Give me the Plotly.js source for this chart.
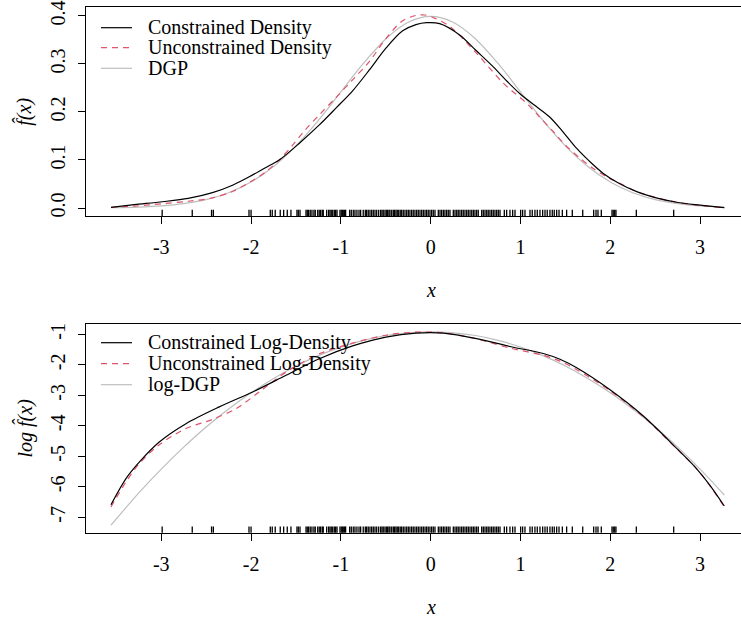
<!DOCTYPE html>
<html>
<head>
<meta charset="utf-8">
<script src="https://cdn.plot.ly/plotly-3.0.1.min.js"></script>
<style>html,body{margin:0;padding:0;background:#fff}#chart{width:741px;height:619px}</style>
</head>
<body>
<div id="chart"></div>
<script>
// ---------- data ----------
// Top panel: densities
var conX = [-3.56,-3.3,-2.985,-2.7,-2.43,-2.2,-2.02,-1.84,-1.686,-1.45,-1.24,-1.05,-0.869,-0.683,-0.498,-0.312,-0.164,-0.045,0.1,0.326,0.5,0.697,0.85,0.994,1.15,1.328,1.48,1.626,1.77,1.922,2.1,2.294,2.5,2.739,3.0,3.27];
var conY = [0.0015,0.007,0.013,0.020,0.032,0.048,0.065,0.084,0.100,0.137,0.173,0.209,0.244,0.2875,0.333,0.369,0.382,0.386,0.384,0.360,0.329,0.294,0.264,0.238,0.215,0.189,0.157,0.124,0.097,0.072,0.051,0.034,0.0215,0.012,0.006,0.0007];
var uncX = [-3.56,-3.3,-2.985,-2.7,-2.43,-2.2,-2.02,-1.84,-1.686,-1.537,-1.4,-1.24,-1.05,-0.869,-0.683,-0.498,-0.312,-0.164,-0.063,0.05,0.215,0.512,0.809,1.069,1.2,1.366,1.5,1.663,1.82,1.96,2.1,2.294,2.5,2.739,3.0,3.27];
var uncY = [0.0015,0.004,0.009,0.014,0.021,0.035,0.053,0.075,0.100,0.131,0.162,0.194,0.231,0.267,0.305,0.353,0.390,0.401,0.402,0.395,0.378,0.322,0.260,0.218,0.192,0.159,0.131,0.1035,0.081,0.065,0.052,0.034,0.022,0.012,0.005,0.0007];
var dgpX = [-3.56,-3.25,-3.0,-2.75,-2.5,-2.25,-2.0,-1.75,-1.5,-1.25,-1.0,-0.75,-0.5,-0.25,0,0.25,0.5,0.75,1.0,1.25,1.5,1.75,2.0,2.25,2.5,2.75,3.0,3.27];
var dgpY = [0.0007,0.002,0.0044,0.0091,0.0175,0.0317,0.054,0.0863,0.1295,0.1826,0.242,0.3011,0.3521,0.3867,0.3989,0.3867,0.3521,0.3011,0.242,0.1826,0.1295,0.0863,0.054,0.0317,0.0175,0.0091,0.0044,0.0019];

// Bottom panel: log-densities
var lconX = [-3.56,-3.393,-3.245,-3.022,-2.725,-2.354,-1.982,-1.611,-1.24,-0.869,-0.498,-0.164,0.14,0.512,0.883,1.254,1.44,1.626,1.997,2.368,2.739,2.962,3.11,3.27];
var lconY = [-6.59,-5.73,-5.19,-4.53,-3.93,-3.38,-2.89,-2.345,-1.80,-1.38,-1.09,-0.96,-0.96,-1.14,-1.40,-1.63,-1.82,-2.10,-2.82,-3.68,-4.74,-5.41,-5.95,-6.63];
var luncX = [-3.56,-3.393,-3.245,-3.022,-2.725,-2.43,-2.168,-1.909,-1.611,-1.24,-0.869,-0.498,-0.164,0.14,0.512,0.883,1.254,1.44,1.626,1.997,2.368,2.739,2.962,3.11,3.27];
var luncY = [-6.66,-5.84,-5.24,-4.62,-4.09,-3.79,-3.44,-2.89,-2.24,-1.64,-1.29,-1.03,-0.93,-0.95,-1.15,-1.45,-1.69,-1.88,-2.16,-2.85,-3.70,-4.75,-5.41,-5.97,-6.66];
var ldgpX = dgpX;
var ldgpY = [-7.26,-6.20,-5.42,-4.70,-4.04,-3.45,-2.92,-2.45,-2.04,-1.70,-1.42,-1.20,-1.04,-0.95,-0.92,-0.95,-1.04,-1.20,-1.42,-1.70,-2.04,-2.45,-2.92,-3.45,-4.04,-4.70,-5.42,-6.27];

// Rug: observed sample
var rugX = [-2.99,-2.655,-2.44,-2.42,-2.023,-2.0,
 -1.786,-1.764,-1.731,-1.675,-1.637,-1.597,-1.556,-1.489,-1.474,-1.455,-1.388,-1.374,-1.359,-1.341,-1.322,-1.300,-1.285,-1.258,-1.241,-1.225,-1.207,-1.196,-1.158,-1.136,-1.121,-1.107,-1.091,-1.073,-1.058,-1.043,-1.010,-0.996,-0.984,-0.973,-0.958,-0.947,-0.902,-0.884,-0.862,-0.843,-0.821,-0.798,-0.780,-0.751,-0.728,-0.713,-0.695,-0.676,-0.657,-0.639,-0.620,-0.601,-0.579,-0.557,-0.542,-0.528,-0.509,-0.494,-0.479,-0.464,-0.453,-0.434,-0.416,-0.401,-0.386,-0.372,-0.356,-0.339,-0.323,-0.305,-0.286,-0.267,-0.249,
 -0.231,-0.212,-0.194,-0.175,-0.156,-0.138,-0.119,-0.100,-0.082,-0.063,-0.045,-0.027,-0.008,0.011,0.029,0.048,0.085,0.104,0.122,0.141,0.159,0.178,0.196,0.215,0.252,0.271,0.290,0.307,0.326,0.345,0.363,0.382,0.401,0.419,0.438,0.457,0.475,0.493,0.512,0.530,0.568,0.586,0.605,0.624,0.641,0.660,0.679,0.697,0.716,0.735,0.753,0.772,0.820,0.846,0.883,0.913,0.939,1.002,1.024,1.050,1.106,1.131,1.161,1.187,1.217,1.247,1.273,1.298,1.328,1.354,1.376,1.403,1.429,1.466,1.514,1.577,1.693,1.815,1.841,1.863,1.900,2.019,2.033,2.049,2.063,2.290,2.706];

var xTicks = [-3,-2,-1,0,1,2,3];
var xTickText = ['-3','-2','-1','0','1','2','3'];
var yTicksTop = [0,0.1,0.2,0.3,0.4];
var yTickTextTop = ['0.0','0.1','0.2','0.3','0.4'];
var yTicksBot = [-7,-6,-5,-4,-3,-2,-1];
var yTickTextBot = ['-7','-6','-5','-4','-3','-2','-1'];

var legTop = ['Constrained Density','Unconstrained Density','DGP'];
var legBot = ['Constrained Log-Density','Unconstrained Log-Density','log-DGP'];

// ---------- styling ----------
var W = 741, H = 619;
var FONT = 'Liberation Serif';
var BLACK = '#000000', RED = '#DF536B', GREY = '#BEBEBE';
var styles = [
  {color: BLACK, width: 1.2, dash: 'solid'},
  {color: RED, width: 1.2, dash: '6px,5px'},
  {color: GREY, width: 1.2, dash: 'solid'}
];
function px(xp){return xp / W;}
function py(yp){return 1 - yp / H;}

function tr(x, y, name, s, xa, ya){
  return {x: x, y: y, name: name, type: 'scatter', mode: 'lines',
    line: {color: s.color, width: s.width, dash: s.dash, shape: 'spline', smoothing: 0.9},
    xaxis: xa, yaxis: ya, showlegend: false, hoverinfo: 'skip'};
}

var data = [
  tr(dgpX, dgpY, legTop[2], styles[2], 'x', 'y'),
  tr(uncX, uncY, legTop[1], styles[1], 'x', 'y'),
  tr(conX, conY, legTop[0], styles[0], 'x', 'y'),
  tr(ldgpX, ldgpY, legBot[2], styles[2], 'x2', 'y2'),
  tr(luncX, luncY, legBot[1], styles[1], 'x2', 'y2'),
  tr(lconX, lconY, legBot[0], styles[0], 'x2', 'y2')
];

var shapes = [];
rugX.forEach(function(v){
  shapes.push({type: 'line', xref: 'x', yref: 'y domain', x0: v, x1: v, y0: 0, y1: 0.03, line: {color: BLACK, width: 1.3}});
  shapes.push({type: 'line', xref: 'x2', yref: 'y2 domain', x0: v, x1: v, y0: 0, y1: 0.03, line: {color: BLACK, width: 1.3}});
});

var annotations = [];
function legend(names, rowsY){
  names.forEach(function(n, i){
    shapes.push({type: 'line', xref: 'paper', yref: 'paper', x0: px(101), x1: px(132), y0: py(rowsY[i]), y1: py(rowsY[i]),
      line: {color: styles[i].color, width: styles[i].width, dash: styles[i].dash}});
    annotations.push({xref: 'paper', yref: 'paper', x: px(146), y: py(rowsY[i]), xanchor: 'left', yanchor: 'middle',
      text: n, showarrow: false, font: {family: FONT, size: 20, color: BLACK}});
  });
}
legend(legTop, [27.7, 47.7, 68.3]);
legend(legBot, [342.7, 363.7, 384.7]);

// axis titles
annotations.push({xref: 'paper', yref: 'paper', x: px(431), y: py(290), xanchor: 'center', yanchor: 'middle', text: '<i>x</i>', showarrow: false, font: {family: FONT, size: 20, color: BLACK}});
annotations.push({xref: 'paper', yref: 'paper', x: px(431), y: py(607), xanchor: 'center', yanchor: 'middle', text: '<i>x</i>', showarrow: false, font: {family: FONT, size: 20, color: BLACK}});
annotations.push({xref: 'paper', yref: 'paper', x: px(24), y: py(111.7), xanchor: 'center', yanchor: 'middle', textangle: -90, text: '<i>f\u0302(x)</i>', showarrow: false, font: {family: FONT, size: 20, color: BLACK}});
annotations.push({xref: 'paper', yref: 'paper', x: px(24), y: py(428.5), xanchor: 'center', yanchor: 'middle', textangle: -90, text: '<i>log f\u0302(x)</i>', showarrow: false, font: {family: FONT, size: 20, color: BLACK}});

function xax(anchor){
  return {domain: [px(86), 1], range: [-3.838, 3.4555], anchor: anchor,
    tickmode: 'array', tickvals: xTicks, ticktext: xTickText,
    ticks: 'outside', ticklen: 7, tickwidth: 1, tickcolor: BLACK, ticklabelstandoff: 6,
    showline: true, linecolor: BLACK, linewidth: 1, mirror: true,
    showgrid: false, zeroline: false, fixedrange: true,
    tickfont: {family: FONT, size: 20, color: BLACK}};
}
function yax(anchor, dom, rng, tv, tt){
  return {domain: dom, range: rng, anchor: anchor,
    tickmode: 'array', tickvals: tv, ticktext: tt, tickangle: -90,
    ticks: 'outside', ticklen: 7, tickwidth: 1, tickcolor: BLACK, ticklabelstandoff: 5,
    showline: true, linecolor: BLACK, linewidth: 1, mirror: false,
    showgrid: false, zeroline: false, fixedrange: true,
    tickfont: {family: FONT, size: 20, color: BLACK}};
}

var layout = {
  width: W, height: H,
  margin: {l: 0, r: 0, t: 0, b: 0, pad: 0},
  paper_bgcolor: '#ffffff', plot_bgcolor: '#ffffff',
  showlegend: false,
  font: {family: FONT, size: 20, color: BLACK},
  xaxis: xax('y'),
  yaxis: yax('x', [py(216), py(7.3)], [-0.01667, 0.418], yTicksTop, yTickTextTop),
  xaxis2: xax('y2'),
  yaxis2: yax('x2', [py(532.7), py(324.3)], [-7.505, -0.672], yTicksBot, yTickTextBot),
  shapes: shapes,
  annotations: annotations
};

Plotly.newPlot('chart', data, layout, {staticPlot: true, displayModeBar: false});
</script>
</body>
</html>
